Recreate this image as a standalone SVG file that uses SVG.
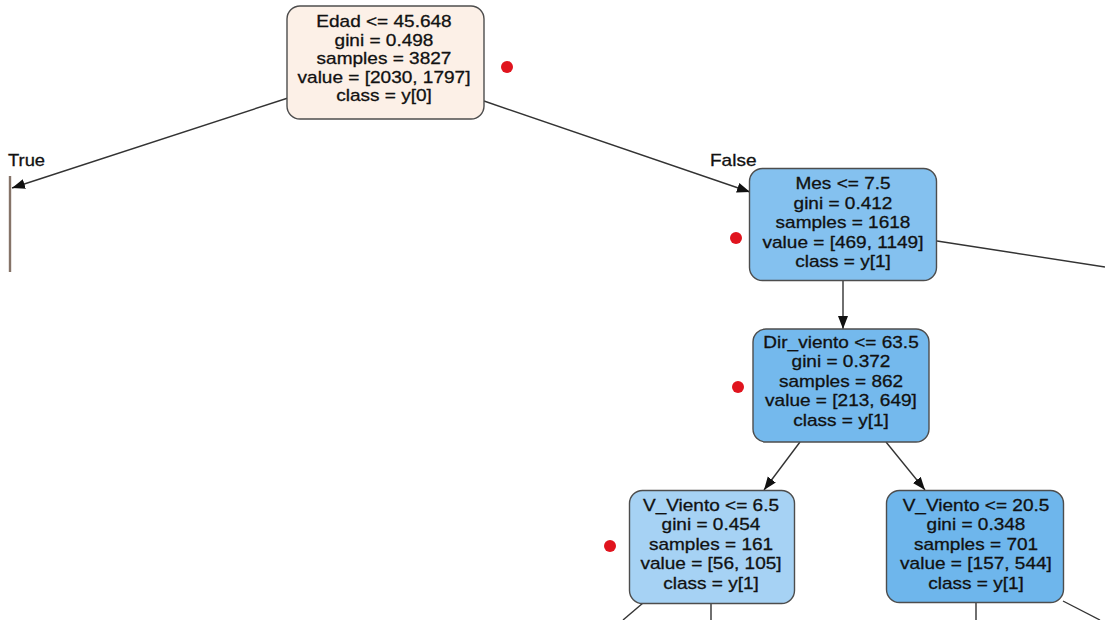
<svg xmlns="http://www.w3.org/2000/svg" width="1105" height="620" viewBox="0 0 1105 620">
  <style>
    .box { stroke: #4d4d4d; stroke-width: 1.4; }
    .lbl text { font-family: "Liberation Sans", Arial, sans-serif; font-size: 17px; fill: #111; stroke: #111; stroke-width: 0.3; text-anchor: middle; }
    .edge { stroke: #333; stroke-width: 1.4; fill: none; }
    .dot { fill: #e0141e; }
    .tag { font-family: "Liberation Sans", Arial, sans-serif; font-size: 17px; fill: #111; stroke: #111; stroke-width: 0.3; }
  </style>
  <defs>
    <marker id="arrow" markerUnits="userSpaceOnUse" markerWidth="14" markerHeight="12" refX="13" refY="5" orient="auto">
      <path d="M0,0 L13,5 L0,10 Z" fill="#111"/>
    </marker>
  </defs>
  <rect width="1105" height="620" fill="#ffffff"/>

  <!-- node: left branch, only its edge falls inside the frame -->
  <g id="node-left">
    <line x1="10" y1="176" x2="10" y2="272" stroke="#857368" stroke-width="2.4"/>
  </g>

  <!-- connectors -->
  <g id="edges">
    <line class="edge" x1="288" y1="98" x2="12" y2="188" marker-end="url(#arrow)"/>
    <line class="edge" x1="484" y1="101" x2="750" y2="192" marker-end="url(#arrow)"/>
    <line class="edge" x1="937" y1="241" x2="1105" y2="267"/>
    <line class="edge" x1="843" y1="281" x2="843" y2="329" marker-end="url(#arrow)"/>
    <line class="edge" x1="800" y1="442" x2="764" y2="490" marker-end="url(#arrow)"/>
    <line class="edge" x1="886" y1="442" x2="925" y2="490" marker-end="url(#arrow)"/>
    <line class="edge" x1="643" y1="603" x2="623" y2="620"/>
    <line class="edge" x1="711" y1="604" x2="711" y2="620"/>
    <line class="edge" x1="976" y1="603" x2="976" y2="620"/>
    <line class="edge" x1="1063" y1="601" x2="1100" y2="620"/>
    <text class="tag" transform="translate(8,166) scale(1.08,1)">True</text>
    <text class="tag" transform="translate(710,166) scale(1.12,1)">False</text>
  </g>

  <!-- node: root -->
  <g id="node-root">
    <rect class="box" x="287" y="6" width="197" height="113" rx="13" fill="#fcf0e7"/>
    <g class="lbl" transform="translate(384,0) scale(1.12,1)">
      <text y="27.5">Edad &lt;= 45.648</text>
      <text y="46">gini = 0.498</text>
      <text y="64.5">samples = 3827</text>
      <text y="83">value = [2030, 1797]</text>
      <text y="101.5">class = y[0]</text>
    </g>
    <circle class="dot" cx="507" cy="67" r="6"/>
  </g>

  <!-- node: Mes -->
  <g id="node-mes">
    <rect class="box" x="749.5" y="168.5" width="187" height="112" rx="13" fill="#84c1ef"/>
    <g class="lbl" transform="translate(843,0) scale(1.12,1)">
      <text y="189.5">Mes &lt;= 7.5</text>
      <text y="209">gini = 0.412</text>
      <text y="228.5">samples = 1618</text>
      <text y="248">value = [469, 1149]</text>
      <text y="267.5">class = y[1]</text>
    </g>
    <circle class="dot" cx="736" cy="238" r="6"/>
  </g>

  <!-- node: Dir_viento -->
  <g id="node-dir">
    <rect class="box" x="753" y="329" width="176" height="113" rx="13" fill="#74b9ed"/>
    <g class="lbl" transform="translate(841,0) scale(1.12,1)">
      <text y="348">Dir_viento &lt;= 63.5</text>
      <text y="367.5">gini = 0.372</text>
      <text y="387">samples = 862</text>
      <text y="406.5">value = [213, 649]</text>
      <text y="426">class = y[1]</text>
    </g>
    <circle class="dot" cx="738" cy="387" r="6"/>
  </g>

  <!-- node: V_Viento <= 6.5 -->
  <g id="node-vv1">
    <rect class="box" x="629.5" y="490.5" width="165" height="113" rx="13" fill="#a6d2f4"/>
    <g class="lbl" transform="translate(711,0) scale(1.12,1)">
      <text y="511.5">V_Viento &lt;= 6.5</text>
      <text y="530.5">gini = 0.454</text>
      <text y="550">samples = 161</text>
      <text y="569.5">value = [56, 105]</text>
      <text y="589">class = y[1]</text>
    </g>
    <circle class="dot" cx="610" cy="546" r="6"/>
  </g>

  <!-- node: V_Viento <= 20.5 -->
  <g id="node-vv2">
    <rect class="box" x="886.5" y="490.5" width="177" height="112" rx="13" fill="#6eb6ec"/>
    <g class="lbl" transform="translate(976,0) scale(1.12,1)">
      <text y="511.5">V_Viento &lt;= 20.5</text>
      <text y="530.5">gini = 0.348</text>
      <text y="550">samples = 701</text>
      <text y="569.5">value = [157, 544]</text>
      <text y="589">class = y[1]</text>
    </g>
  </g>
</svg>
